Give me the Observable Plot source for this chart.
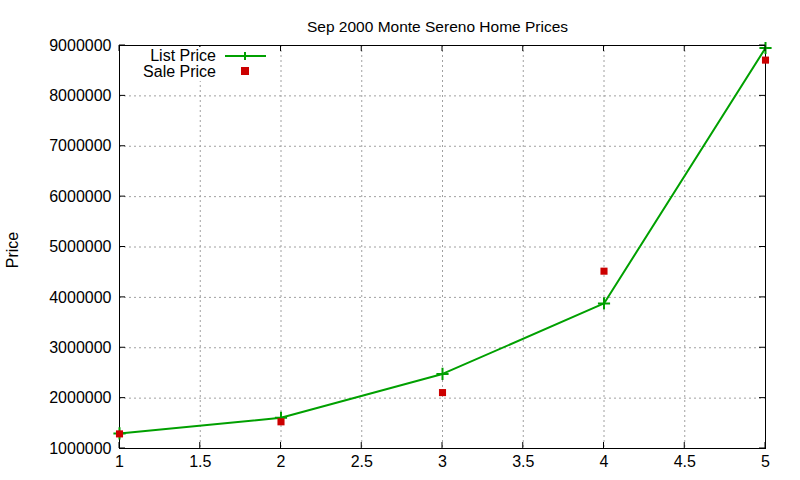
<!DOCTYPE html>
<html>
<head>
<meta charset="utf-8">
<script src="https://cdn.jsdelivr.net/npm/d3@7"></script>
<script src="https://cdn.jsdelivr.net/npm/@observablehq/plot@0.6"></script>
<style>
  html, body { margin: 0; padding: 0; background: #fff; }
  #chart svg { display: block; }
</style>
</head>
<body>
<div id="chart"></div>
<script>
const homes = [1, 2, 3, 4, 5];
const listPrice = [1300000, 1610000, 2480000, 3880000, 8950000];
const salePrice = [1290000, 1530000, 2110000, 4520000, 8710000];
const xTicks = [1, 1.5, 2, 2.5, 3, 3.5, 4, 4.5, 5];
const yTicks = [1000000, 2000000, 3000000, 4000000, 5000000, 6000000, 7000000, 8000000, 9000000];
const titleText = "Sep 2000 Monte Sereno Home Prices";
const yLabel = "Price";
const seriesNames = ["List Price", "Sale Price"];

(function () {
const listData = homes.map((h, i) => ({x: h, y: listPrice[i]}));
const saleData = homes.map((h, i) => ({x: h, y: salePrice[i]}));

const FONT = "Liberation Sans, Arial, sans-serif";
const GREEN = "#00a000";
const RED = "#cc0000";
const M = {left: 119, right: 35, top: 45, bottom: 32};

const plot = Plot.plot({
  width: 800,
  height: 480,
  marginLeft: M.left,
  marginRight: M.right,
  marginTop: M.top,
  marginBottom: M.bottom,
  style: {fontFamily: FONT, fontSize: "16px", background: "#fff", color: "#000"},
  x: {domain: [1, 5], label: null},
  y: {domain: [1000000, 9000000], label: null},
  marks: [
    Plot.gridX(xTicks.slice(1, -1), {stroke: "#a0a0a0", strokeOpacity: 1, strokeDasharray: "2,3", strokeWidth: 1}),
    Plot.gridY(yTicks.slice(1, -1), {stroke: "#a0a0a0", strokeOpacity: 1, strokeDasharray: "2,3", strokeWidth: 1}),
    Plot.frame({stroke: "#000", strokeWidth: 1}),
    Plot.line(listData, {x: "x", y: "y", stroke: GREEN, strokeWidth: 2}),
    Plot.dot(listData, {x: "x", y: "y", symbol: "plus", r: 4, stroke: GREEN, strokeWidth: 2}),
    Plot.dot(saleData, {x: "x", y: "y", symbol: "square", r: 4, fill: RED, stroke: "none"}),
    Plot.text([titleText], {text: d => d, frameAnchor: "top", dx: -5, dy: -25, fontSize: 15.5, fill: "#000"}),
    Plot.axisX({ticks: xTicks, tickFormat: d => String(d), tickSize: 0, tickPadding: 7, label: null, fontSize: 16}),
    Plot.axisY({ticks: yTicks, tickFormat: d => String(d), tickSize: 0, tickPadding: 8, label: null, fontSize: 16})
  ]
});

document.getElementById("chart").appendChild(plot);

const svg = d3.select(plot);
const sx = plot.scale("x"), sy = plot.scale("y");
const L = M.left, R = 800 - M.right, T = M.top, B = 480 - M.bottom;
const g = svg.append("g").attr("stroke", "#000").attr("stroke-width", 1);
xTicks.forEach(t => {
  const px = sx.apply(t);
  g.append("line").attr("x1", px).attr("x2", px).attr("y1", B).attr("y2", B - 6);
  g.append("line").attr("x1", px).attr("x2", px).attr("y1", T).attr("y2", T + 6);
});
yTicks.forEach(t => {
  const py = sy.apply(t);
  g.append("line").attr("x1", L).attr("x2", L + 6).attr("y1", py).attr("y2", py);
  g.append("line").attr("x1", R).attr("x2", R - 6).attr("y1", py).attr("y2", py);
});

svg.append("text")
  .attr("transform", `translate(18,250) rotate(-90)`)
  .attr("text-anchor", "middle")
  .attr("font-family", FONT)
  .attr("font-size", 16)
  .attr("fill", "#000")
  .text(yLabel);

const leg = svg.append("g").attr("font-family", FONT).attr("font-size", 16);
leg.append("rect").attr("x", 125).attr("y", 47).attr("width", 150).attr("height", 34).attr("fill", "#fff");
leg.append("text").attr("x", 216).attr("y", 61).attr("text-anchor", "end").attr("fill", "#000").text(seriesNames[0]);
leg.append("line").attr("x1", 225).attr("x2", 266).attr("y1", 56).attr("y2", 56).attr("stroke", GREEN).attr("stroke-width", 2);
leg.append("path").attr("d", "M241,56h8M245,52v8").attr("stroke", GREEN).attr("stroke-width", 2);
leg.append("text").attr("x", 216).attr("y", 77).attr("text-anchor", "end").attr("fill", "#000").text(seriesNames[1]);
leg.append("rect").attr("x", 241).attr("y", 67).attr("width", 8).attr("height", 8).attr("fill", RED);
})();
</script>
</body>
</html>
